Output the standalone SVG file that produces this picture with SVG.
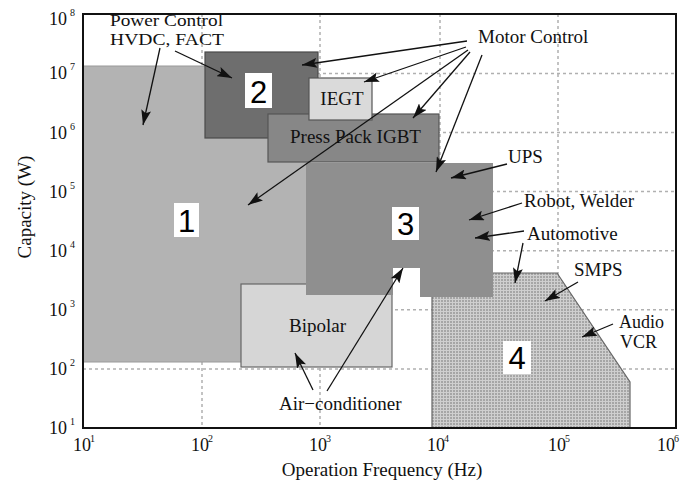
<svg xmlns="http://www.w3.org/2000/svg" width="680" height="482" viewBox="0 0 680 482">
<style>
.t{font-family:"Liberation Serif","Times New Roman",serif;font-size:19px;fill:#111}
.ts{font-family:"Liberation Serif","Times New Roman",serif;font-size:18px;fill:#111}
.tp{font-family:"Liberation Serif","Times New Roman",serif;font-size:16.5px;fill:#111}
.tk{font-family:"Liberation Serif","Times New Roman",serif;font-size:18px;fill:#111}
.sup{font-family:"Liberation Serif","Times New Roman",serif;font-size:10px;fill:#111}
.num{font-family:"Liberation Sans",Arial,sans-serif;font-size:31px;fill:#000;text-anchor:middle}
.grid{stroke:#b0b0b0;stroke-width:1.5;stroke-dasharray:3 3;fill:none}
.lbl{fill:#fff}
.arr{stroke:#111;stroke-width:1.3;fill:none;marker-end:url(#ah)}
</style>
<defs>
<marker id="ah" markerUnits="userSpaceOnUse" markerWidth="15" markerHeight="10" refX="15" refY="5" orient="auto">
<path d="M0,0 L15,5 L0,10 L3,5 z" fill="#111"/>
</marker>
<pattern id="dots" width="3" height="3" patternUnits="userSpaceOnUse">
<rect width="3" height="3" fill="#a6a6a6"/>
<rect x="2" width="1" height="3" fill="#cfcfcf"/>
<rect y="2" width="3" height="1" fill="#cfcfcf"/>
</pattern>
</defs>
<rect width="680" height="482" fill="#fff"/>
<g id="grid">
<path class="grid" d="M202,14V428M320,14V428M440,14V428M558,14V428"/>
<path class="grid" d="M83,73.4H676M83,132.5H676M83,191.6H676M83,250.7H676M83,309.8H676M83,369H676"/>
</g>
<g id="region1">
<rect x="83" y="66" width="227" height="296" fill="#b3b3b3" stroke="#9a9a9a" stroke-width="1"/>
<rect class="lbl" x="174" y="203" width="25" height="34"/>
<text class="num" x="186.5" y="232">1</text>
</g>
<g id="region2">
<rect x="205" y="52" width="113" height="86" fill="#6e6e6e" stroke="#4a4a4a" stroke-width="1.2"/>
<rect class="lbl" x="245" y="73" width="27" height="35"/>
<text class="num" x="258.5" y="103">2</text>
</g>
<g id="pressPack">
<rect x="268" y="114" width="171" height="48" fill="#878787" stroke="#555" stroke-width="1.2"/>
<text class="t" x="355.5" y="143" text-anchor="middle">Press Pack IGBT</text>
</g>
<g id="iegt">
<rect x="309" y="78" width="63" height="42" fill="#dadada" stroke="#555" stroke-width="1.2"/>
<text class="t" x="342" y="105" text-anchor="middle">IEGT</text>
</g>
<g id="bipolar">
<rect x="241" y="284" width="151" height="83" fill="#d6d6d6" stroke="#666" stroke-width="1.2"/>
<text class="t" x="317.5" y="332" text-anchor="middle">Bipolar</text>
</g>
<g id="region4">
<path d="M432,428 V273 H557 L630,382 V428 Z" fill="url(#dots)" stroke="#666" stroke-width="1.2"/>
<rect class="lbl" x="503" y="341" width="28" height="33"/>
<text class="num" x="517" y="369">4</text>
</g>
<g id="region3">
<path d="M306,163 H493 V297 H420 V268 H393 V295 H306 Z" fill="#8f8f8f"/>
<rect class="lbl" x="392" y="207" width="27" height="33"/>
<text class="num" x="405.5" y="235">3</text>
</g>
<g id="labels">
<text class="tp" x="110" y="26" textLength="113" lengthAdjust="spacingAndGlyphs">Power Control</text>
<text class="tp" x="110" y="45" textLength="114" lengthAdjust="spacingAndGlyphs">HVDC, FACT</text>
<text class="t" x="478" y="43">Motor Control</text>
<text class="t" x="508" y="163">UPS</text>
<text class="t" x="524" y="207">Robot, Welder</text>
<text class="t" x="527" y="240">Automotive</text>
<text class="t" x="574" y="276">SMPS</text>
<text class="ts" x="619" y="328">Audio</text>
<text class="ts" x="620" y="348">VCR</text>
<text class="t" x="279" y="410">Air−conditioner</text>
</g>
<g id="connectors">
<line class="arr" x1="160" y1="48" x2="143" y2="125"/>
<line class="arr" x1="175" y1="51" x2="232" y2="78"/>
<line class="arr" x1="467" y1="41" x2="302" y2="65"/>
<line class="arr" x1="466" y1="47" x2="364" y2="82"/>
<line class="arr" x1="468" y1="50" x2="248" y2="205"/>
<line class="arr" x1="470" y1="52" x2="413" y2="118"/>
<line class="arr" x1="482" y1="55" x2="436" y2="172"/>
<line class="arr" x1="507" y1="164" x2="451" y2="178"/>
<line class="arr" x1="522" y1="203" x2="469" y2="220"/>
<line class="arr" x1="524" y1="231" x2="475" y2="238"/>
<line class="arr" x1="523" y1="243" x2="515" y2="283"/>
<line class="arr" x1="578" y1="282" x2="545" y2="301"/>
<line class="arr" x1="613" y1="324" x2="582" y2="337"/>
<line class="arr" x1="313" y1="390" x2="295" y2="353"/>
<line class="arr" x1="327" y1="391" x2="403" y2="268"/>
</g>
<g id="axes">
<rect x="83" y="14" width="593" height="414" fill="none" stroke="#111" stroke-width="2"/>
<text class="tk" x="49" y="25">10</text><text class="sup" x="70" y="16">8</text>
<text class="tk" x="49" y="79">10</text><text class="sup" x="70" y="70">7</text>
<text class="tk" x="49" y="139">10</text><text class="sup" x="70" y="130">6</text>
<text class="tk" x="49" y="198">10</text><text class="sup" x="70" y="189">5</text>
<text class="tk" x="49" y="257">10</text><text class="sup" x="70" y="248">4</text>
<text class="tk" x="49" y="316">10</text><text class="sup" x="70" y="307">3</text>
<text class="tk" x="49" y="375">10</text><text class="sup" x="70" y="366">2</text>
<text class="tk" x="49" y="434">10</text><text class="sup" x="70" y="425">1</text>
<text class="tk" x="73" y="451">10</text><text class="sup" x="90" y="442">1</text>
<text class="tk" x="191" y="451">10</text><text class="sup" x="208" y="442">2</text>
<text class="tk" x="309" y="451">10</text><text class="sup" x="326" y="442">3</text>
<text class="tk" x="427" y="451">10</text><text class="sup" x="444" y="442">4</text>
<text class="tk" x="548" y="451">10</text><text class="sup" x="565" y="442">5</text>
<text class="tk" x="657" y="451">10</text><text class="sup" x="674" y="442">6</text>
<text class="t" x="382" y="476" text-anchor="middle">Operation Frequency (Hz)</text>
<text class="t" transform="translate(31,207) rotate(-90)" text-anchor="middle">Capacity (W)</text>
</g>
</svg>
